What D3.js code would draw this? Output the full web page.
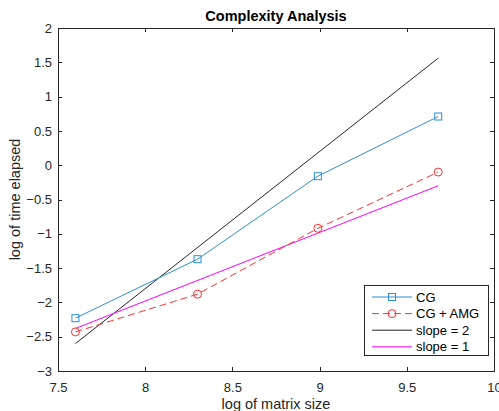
<!DOCTYPE html>
<html>
<head>
<meta charset="utf-8">
<script src="https://cdn.jsdelivr.net/npm/d3@7"></script>
<style>
  body { margin: 0; background: #fff; }
  svg text { font-family: "Liberation Sans", Arial, sans-serif; }
</style>
</head>
<body>
<div id="chart"></div>
<script>
var xTicks = [7.5, 8, 8.5, 9, 9.5, 10];
var yTicks = [-3, -2.5, -2, -1.5, -1, -0.5, 0, 0.5, 1, 1.5, 2];

var sizes = [7.6, 8.3, 8.99, 9.68];
var cgTimes = [-2.23, -1.37, -0.16, 0.71];
var amgTimes = [-2.43, -1.88, -0.92, -0.10];

var refX = [7.6, 9.68];
var slope2 = [-2.6, 1.56];
var slope1 = [-2.38, -0.30];

function init() {
    var w = 499, h = 411;
    var left = 58, right = 494, top = 28, bottom = 371;

    var svg = d3.select("#chart").append("svg")
        .attr("width", w).attr("height", h);

    var x = d3.scaleLinear().domain([7.5, 10]).range([left, right]);
    var y = d3.scaleLinear().domain([-3, 2]).range([bottom, top]);

    var axisColor = "#262626";

    // box
    svg.append("rect")
        .attr("x", left).attr("y", top)
        .attr("width", right - left).attr("height", bottom - top)
        .attr("fill", "#fff").attr("stroke", axisColor).attr("stroke-width", 1)
        .attr("shape-rendering", "crispEdges");

    // axes with inward ticks
    var fmt = function(d) { return d3.format("")(d); };
    var gx = svg.append("g").attr("transform", "translate(0," + bottom + ")")
        .call(d3.axisBottom(x).tickValues(xTicks).tickSize(-4).tickPadding(12).tickFormat(fmt));
    var gxt = svg.append("g").attr("transform", "translate(0," + top + ")")
        .call(d3.axisTop(x).tickValues(xTicks).tickSize(-4).tickFormat(""));
    var gy = svg.append("g").attr("transform", "translate(" + left + ",0)")
        .call(d3.axisLeft(y).tickValues(yTicks).tickSize(-4).tickPadding(6).tickFormat(fmt));
    var gyr = svg.append("g").attr("transform", "translate(" + right + ",0)")
        .call(d3.axisRight(y).tickValues(yTicks).tickSize(-4).tickFormat(""));

    [gx, gxt, gy, gyr].forEach(function(g) {
        g.select(".domain").remove();
        g.selectAll("line").attr("stroke", axisColor).attr("shape-rendering", "crispEdges");
        g.selectAll("text").attr("fill", axisColor).attr("font-size", "13px");
    });

    var line = d3.line()
        .x(function(d) { return x(d[0]); })
        .y(function(d) { return y(d[1]); });

    var plot = svg.append("g");

    function pairs(xs, ys) { return xs.map(function(v, i) { return [v, ys[i]]; }); }

    // reference lines
    plot.append("path").datum(pairs(refX, slope2)).attr("d", line)
        .attr("fill", "none").attr("stroke", "#262626").attr("stroke-width", 1);
    plot.append("path").datum(pairs(refX, slope1)).attr("d", line)
        .attr("fill", "none").attr("stroke", "#ff00ff").attr("stroke-width", 1);

    // CG
    var cgColor = "#2b8fd6";
    plot.append("path").datum(pairs(sizes, cgTimes)).attr("d", line)
        .attr("fill", "none").attr("stroke", cgColor).attr("stroke-width", 1);
    plot.selectAll(".cg").data(pairs(sizes, cgTimes)).enter().append("rect")
        .attr("x", function(d) { return x(d[0]) - 3.5; })
        .attr("y", function(d) { return y(d[1]) - 3.5; })
        .attr("width", 7).attr("height", 7)
        .attr("fill", "none").attr("stroke", cgColor).attr("stroke-width", 1);

    // CG + AMG
    var amgColor = "#ff3030";
    plot.append("path").datum(pairs(sizes, amgTimes)).attr("d", line)
        .attr("fill", "none").attr("stroke", amgColor).attr("stroke-width", 1)
        .attr("stroke-dasharray", "7,4");
    plot.selectAll(".amg").data(pairs(sizes, amgTimes)).enter().append("circle")
        .attr("cx", function(d) { return x(d[0]); })
        .attr("cy", function(d) { return y(d[1]); })
        .attr("r", 4)
        .attr("fill", "none").attr("stroke", amgColor).attr("stroke-width", 1);

    // title and labels
    svg.append("text").attr("x", (left + right) / 2).attr("y", 21)
        .attr("text-anchor", "middle").attr("font-size", "14.5px").attr("font-weight", "bold")
        .attr("fill", "#000").text("Complexity Analysis");
    svg.append("text").attr("x", (left + right) / 2).attr("y", 409)
        .attr("text-anchor", "middle").attr("font-size", "14.5px")
        .attr("fill", axisColor).text("log of matrix size");
    svg.append("text")
        .attr("transform", "translate(20," + ((top + bottom) / 2) + ") rotate(-90)")
        .attr("text-anchor", "middle").attr("font-size", "14.5px")
        .attr("fill", axisColor).text("log of time elapsed");

    // legend
    var legendItems = [
        { label: "CG", color: cgColor, dash: null, marker: "square" },
        { label: "CG + AMG", color: amgColor, dash: "7,4", marker: "circle" },
        { label: "slope = 2", color: "#262626", dash: null, marker: null },
        { label: "slope = 1", color: "#ff00ff", dash: null, marker: null }
    ];
    var lg = svg.append("g");
    lg.append("rect").attr("x", 364.5).attr("y", 285.5).attr("width", 124).attr("height", 70)
        .attr("fill", "#fff").attr("stroke", axisColor).attr("stroke-width", 1);
    legendItems.forEach(function(it, i) {
        var yy = 297 + i * 16.6;
        lg.append("line").attr("x1", 372).attr("x2", 412).attr("y1", yy).attr("y2", yy)
            .attr("stroke", it.color).attr("stroke-width", 1)
            .attr("stroke-dasharray", it.dash);
        if (it.marker === "square") {
            lg.append("rect").attr("x", 388.5).attr("y", yy - 3.5).attr("width", 7).attr("height", 7)
                .attr("fill", "none").attr("stroke", it.color);
        } else if (it.marker === "circle") {
            lg.append("circle").attr("cx", 392).attr("cy", yy).attr("r", 4)
                .attr("fill", "none").attr("stroke", it.color);
        }
        lg.append("text").attr("x", 416).attr("y", yy + 4.5)
            .attr("font-size", "13px").attr("fill", "#000").text(it.label);
    });
}
window.onload = init;
</script>
</body>
</html>
